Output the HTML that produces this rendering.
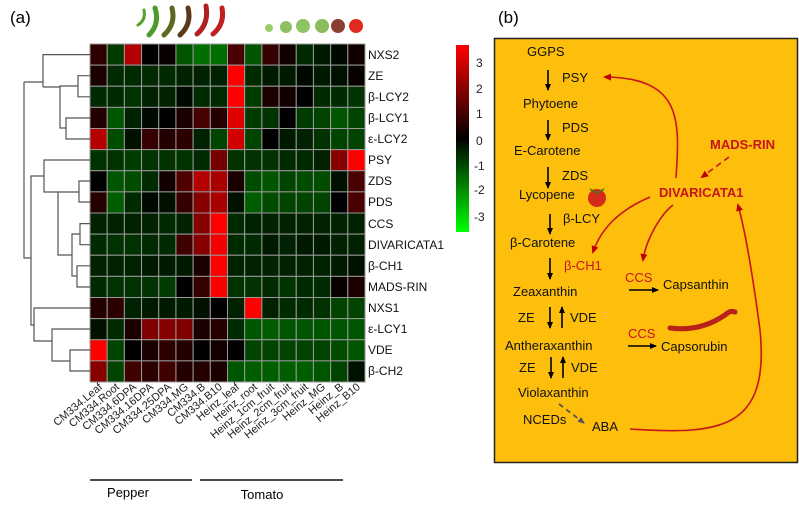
<!DOCTYPE html>
<html><head><meta charset="utf-8"><style>
body{margin:0;background:#fff;}
svg{display:block;font-family:"Liberation Sans",Arial,sans-serif;}
</style></head><body>
<svg id="s" width="799" height="508" viewBox="0 0 799 508" xmlns="http://www.w3.org/2000/svg">
<defs>
<linearGradient id="cb" x1="0" y1="0" x2="0" y2="1">
<stop offset="0" stop-color="#ff0000"/><stop offset="0.5" stop-color="#000"/><stop offset="1" stop-color="#00ff00"/>
</linearGradient>
<marker id="ab" markerWidth="8" markerHeight="8" refX="6" refY="4" orient="auto" markerUnits="userSpaceOnUse"><path d="M0,1 L7,4 L0,7 z" fill="#000"/></marker>
<marker id="ar" markerWidth="9" markerHeight="9" refX="6" refY="4.5" orient="auto" markerUnits="userSpaceOnUse"><path d="M0,1 L8,4.5 L0,8 z" fill="#c00000"/></marker>
<marker id="ag" markerWidth="8" markerHeight="8" refX="6" refY="4" orient="auto" markerUnits="userSpaceOnUse"><path d="M0,1 L7,4 L0,7 z" fill="#555"/></marker>
</defs>
<text x="10" y="23" font-size="17">(a)</text>
<text x="498" y="23" font-size="17">(b)</text>
<!-- peppers -->
<g stroke-linecap="round" fill="none">
<path d="M144,10 Q146,20 138,25" stroke="#5aa02a" stroke-width="3"/>
<path d="M155,8 Q160,24 149,35" stroke="#4e9a2a" stroke-width="5"/>
<path d="M172,8 Q176,24 164,35" stroke="#5a6a22" stroke-width="5"/>
<path d="M188,8 Q192,24 180,35" stroke="#5a3a1a" stroke-width="5"/>
<path d="M206,6 Q209,24 197,34" stroke="#b02020" stroke-width="5"/>
<path d="M222,8 Q225,24 213,34" stroke="#c02020" stroke-width="5"/>
</g>
<!-- tomatoes -->
<circle cx="269" cy="28" r="4" fill="#9ccc6a"/>
<circle cx="286" cy="27" r="6" fill="#8cc060"/>
<circle cx="303" cy="26" r="7" fill="#8ec466"/>
<circle cx="322" cy="26" r="7" fill="#8cbc60"/>
<circle cx="338" cy="26" r="7" fill="#8a4030"/>
<circle cx="356" cy="26" r="7" fill="#e02a20"/>
<g id="cells"></g>
<!-- dendrogram -->
<g stroke="#555" stroke-width="1.2" fill="none">
<path d="M90,54.6H43V87"/><path d="M43,87H60"/>
<path d="M90,75.7H78V96.8H90"/><path d="M78,86H60V128H66"/>
<path d="M90,118H66V139H90"/>
<path d="M24,82H43"/><path d="M24,82V258H31"/>
<path d="M90,160H44V192H58"/>
<path d="M90,181H79V202H90"/><path d="M79,192H58V255H72"/>
<path d="M90,223.6H80V244.7H90"/><path d="M80,234H72V276H77"/>
<path d="M90,265.8H77V287H90"/>
<path d="M44,176H31V325H34"/>
<path d="M90,308H34V341H52"/>
<path d="M90,329H52V361H70"/>
<path d="M90,350H70V371H90"/>
</g>
<!-- row labels -->
<g font-size="12" fill="#111">
<text x="368" y="59">NXS2</text><text x="368" y="80">ZE</text><text x="368" y="101">β-LCY2</text>
<text x="368" y="122">β-LCY1</text><text x="368" y="143">ε-LCY2</text><text x="368" y="164">PSY</text>
<text x="368" y="185">ZDS</text><text x="368" y="206">PDS</text><text x="368" y="228">CCS</text>
<text x="368" y="249">DIVARICATA1</text><text x="368" y="270">β-CH1</text><text x="368" y="291">MADS-RIN</text>
<text x="368" y="312">NXS1</text><text x="368" y="333">ε-LCY1</text><text x="368" y="354">VDE</text>
<text x="368" y="375">β-CH2</text>
</g>
<!-- colorbar -->
<rect x="456" y="45" width="13" height="187" fill="url(#cb)"/>
<g font-size="12" fill="#222">
<text x="476" y="67">3</text><text x="476" y="93">2</text><text x="476" y="118">1</text>
<text x="476" y="145">0</text><text x="474" y="170">-1</text><text x="474" y="194">-2</text><text x="474" y="221">-3</text>
</g>
<!-- column labels -->
<g font-size="11" fill="#222" text-anchor="end" id="cl">
<text transform="translate(103,388) rotate(-40)">CM334.Leaf</text>
<text transform="translate(120,388) rotate(-40)">CM334.Root</text>
<text transform="translate(137,388) rotate(-40)">CM334.6DPA</text>
<text transform="translate(154,388) rotate(-40)">CM334.16DPA</text>
<text transform="translate(172,388) rotate(-40)">CM334.25DPA</text>
<text transform="translate(189,388) rotate(-40)">CM334.MG</text>
<text transform="translate(206,388) rotate(-40)">CM334.B</text>
<text transform="translate(223,388) rotate(-40)">CM334.B10</text>
<text transform="translate(240,388) rotate(-40)">Heinz_leaf</text>
<text transform="translate(258,388) rotate(-40)">Heinz_root</text>
<text transform="translate(275,388) rotate(-40)">Heinz_1cm_fruit</text>
<text transform="translate(292,388) rotate(-40)">Heinz_2cm_fruit</text>
<text transform="translate(309,388) rotate(-40)">Heinz_3cm_fruit</text>
<text transform="translate(326,388) rotate(-40)">Heinz_MG</text>
<text transform="translate(344,388) rotate(-40)">Heinz_B</text>
<text transform="translate(361,388) rotate(-40)">Heinz_B10</text>
</g>
<line x1="90" y1="480" x2="192" y2="480" stroke="#111" stroke-width="1.5"/>
<line x1="200" y1="480" x2="343" y2="480" stroke="#111" stroke-width="1.5"/>
<text x="128" y="497" font-size="13" text-anchor="middle">Pepper</text>
<text x="262" y="499" font-size="13" text-anchor="middle">Tomato</text>
<!-- panel b -->
<rect x="494.5" y="38.5" width="303" height="424" fill="#fdbf0c" stroke="#222" stroke-width="1.5"/>
<g font-size="13" fill="#111">
<text x="527" y="56">GGPS</text><text x="562" y="82">PSY</text>
<text x="523" y="108">Phytoene</text><text x="562" y="132">PDS</text>
<text x="514" y="155">E-Carotene</text><text x="562" y="180">ZDS</text>
<text x="519" y="199">Lycopene</text><text x="563" y="223">β-LCY</text>
<text x="510" y="247">β-Carotene</text>
<text x="513" y="296">Zeaxanthin</text><text x="663" y="289">Capsanthin</text>
<text x="518" y="322">ZE</text><text x="570" y="322">VDE</text>
<text x="505" y="350">Antheraxanthin</text><text x="661" y="351">Capsorubin</text>
<text x="519" y="372">ZE</text><text x="571" y="372">VDE</text>
<text x="518" y="397">Violaxanthin</text>
<text x="523" y="424">NCEDs</text><text x="592" y="431">ABA</text>
</g>
<g font-size="13" fill="#c8141a">
<text x="564" y="270">β-CH1</text><text x="625" y="282">CCS</text><text x="628" y="338">CCS</text>
<text x="710" y="149" font-weight="bold">MADS-RIN</text>
<text x="659" y="197" font-weight="bold">DIVARICATA1</text>
</g>
<g stroke="#000" stroke-width="1.6" marker-end="url(#ab)">
<line x1="548" y1="70" x2="548" y2="90"/><line x1="548" y1="120" x2="548" y2="140"/>
<line x1="548" y1="167" x2="548" y2="188"/><line x1="550" y1="214" x2="550" y2="234"/>
<line x1="550" y1="258" x2="550" y2="279"/>
<line x1="550" y1="307" x2="550" y2="328"/><line x1="562" y1="328" x2="562" y2="307"/>
<line x1="551" y1="357" x2="551" y2="378"/><line x1="563" y1="378" x2="563" y2="357"/>
<line x1="629" y1="290" x2="658" y2="290"/><line x1="628" y1="346" x2="656" y2="346"/>
</g>
<line x1="559" y1="404" x2="584" y2="423" stroke="#555" stroke-width="1.8" stroke-dasharray="5,4" marker-end="url(#ag)"/>
<g stroke="#c8141a" stroke-width="1.6" fill="none" marker-end="url(#ar)">
<path d="M676,178 C680,120 682,78 605,77"/>
<path d="M650,197 C615,212 600,232 593,252"/>
<path d="M673,205 C660,215 646,240 643,260"/>
<path d="M630,429 C720,435 770,430 760,330 C752,270 745,230 738,205"/>
<path d="M729,157 L702,177" stroke-dasharray="6,4"/>
</g>
<circle cx="597" cy="198" r="9" fill="#d42a1a"/>
<path d="M590,189 l7,4 l7,-4" stroke="#3a7a20" stroke-width="1.5" fill="none"/>
<path d="M670,328 Q700,332 725,315 Q730,310 735,312" stroke="#b8201a" stroke-width="5" fill="none" stroke-linecap="round"/>
</svg>
<script>
var d=[
[0.5,-0.7,2,0,0.1,-1,-1.3,-1.3,0.8,-1,0.6,0.2,-0.5,-0.3,-0.1,0.2],
[0.3,-0.5,-0.5,-0.5,-0.5,-0.4,-0.4,-0.4,3,-0.5,-0.3,-0.3,-0.1,-0.3,-0.2,0.1],
[-0.5,-0.5,-0.6,-0.4,-0.4,-0.1,-0.5,-0.5,3,-0.7,0.3,0.2,0,-0.5,-0.5,-0.6],
[0.4,-1,-0.4,-0.1,0,0.3,0.8,0.4,2.5,-0.7,-0.6,0,-0.7,-0.8,-1,-0.8],
[2,-0.9,-0.2,0.6,0.4,0.5,-0.4,-0.8,2.3,-0.8,0,-0.3,-0.4,-0.6,-0.8,-0.8],
[-0.6,-0.6,-0.7,-0.6,-0.6,-0.6,-0.5,1.3,-0.6,-0.6,-0.6,-0.5,-0.5,-0.4,1.5,3],
[0,-1,-0.9,-0.5,0.2,0.9,2,1.9,0.3,-0.9,-1,-0.8,-0.9,-0.9,-0.2,0.8],
[0.4,-1.1,-0.5,-0.1,-0.2,0.6,1.5,1.9,-0.2,-1.1,-0.9,-0.8,-0.8,-0.8,0,0.8],
[-0.4,-0.4,-0.4,-0.4,-0.5,-0.4,1.5,3,-0.5,-0.4,-0.4,-0.4,-0.4,-0.4,-0.4,-0.4],
[-0.5,-0.6,-0.6,-0.5,-0.5,0.7,1.5,2.7,-0.5,-0.5,-0.3,-0.4,-0.3,-0.3,-0.4,-0.4],
[-0.4,-0.4,-0.4,-0.3,-0.3,-0.3,0.3,3,-0.4,-0.4,-0.4,-0.4,-0.4,-0.4,-0.3,-0.2],
[-0.5,-0.6,-0.6,-0.6,-0.7,0,0.6,2.8,-0.6,-0.6,-0.5,-0.6,-0.5,-0.5,0.1,0.3],
[0.4,0.5,-0.4,-0.3,-0.3,-0.3,-0.2,0,-0.4,3,-0.4,-0.5,-0.5,-0.6,-0.8,-0.8],
[-0.2,-0.5,0.3,1.4,1.5,1.4,0.3,0.4,-0.5,-1,-1.1,-1,-1,-1,-1,-1],
[3,-0.8,0,0.3,0.5,0.4,0,0.2,0,-0.8,-0.8,-0.8,-0.8,-0.8,-0.9,-1],
[1.5,-0.8,0.7,0.5,0.7,0.4,0.4,0.3,-1,-1.1,-1.1,-1.1,-1.1,-1,-0.8,-0.2]];
var g=document.getElementById('cells'),h='',cw=275/16,rh=338/16;
for(var i=0;i<16;i++)for(var j=0;j<16;j++){var v=d[i][j],c;
if(v>=0){c='rgb('+Math.min(255,Math.round(90*v))+',0,0)';}else{c='rgb(0,'+Math.min(255,Math.round(85*-v))+',0)';}
h+='<rect x="'+(90+j*cw)+'" y="'+(44+i*rh)+'" width="'+cw+'" height="'+rh+'" fill="'+c+'" stroke="#999" stroke-width="1"/>';}
g.innerHTML=h;
</script>
</body></html>
